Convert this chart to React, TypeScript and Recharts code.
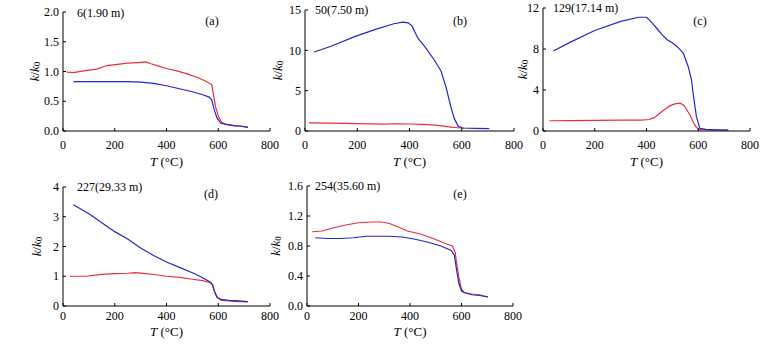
import React from 'react';
import { LineChart, Line, XAxis, YAxis } from 'recharts';

const FONT = '"Liberation Serif", "Times New Roman", serif';
const RED = '#e8303a';
const BLUE = '#2424d4';

const xTicks = [0, 200, 400, 600, 800];

// Panel (a) 6 (1.90 m)
const aRedT = [15, 40, 80, 130, 170, 210, 250, 290, 320, 340, 370, 400, 440, 480, 520, 550, 575, 582, 590, 600, 612, 630, 660, 690, 715];
const aRedK = [0.99, 0.98, 1.01, 1.04, 1.1, 1.12, 1.14, 1.15, 1.16, 1.13, 1.09, 1.05, 1.01, 0.96, 0.9, 0.84, 0.78, 0.6, 0.4, 0.25, 0.15, 0.11, 0.09, 0.08, 0.06];
const aBlueT = [40, 100, 200, 250, 300, 350, 400, 450, 500, 540, 565, 575, 585, 595, 610, 630, 660, 690, 715];
const aBlueK = [0.83, 0.83, 0.83, 0.83, 0.82, 0.8, 0.76, 0.71, 0.66, 0.61, 0.57, 0.52, 0.35, 0.22, 0.13, 0.11, 0.09, 0.08, 0.06];

// Panel (b) 50 (7.50 m)
const bRedT = [15, 100, 200, 300, 350, 400, 450, 500, 530, 560, 585, 610];
const bRedK = [1.0, 0.97, 0.92, 0.85, 0.9, 0.87, 0.82, 0.72, 0.6, 0.47, 0.4, 0.37];
const bBlueT = [35, 100, 190, 270, 340, 375, 395, 410, 432, 460, 495, 521, 540, 559, 572, 587, 603, 650, 705];
const bBlueK = [9.8, 10.5, 11.7, 12.6, 13.3, 13.5, 13.4, 13.0, 11.5, 10.4, 8.8, 7.4, 5.4, 2.9, 1.5, 0.57, 0.37, 0.33, 0.3];

// Panel (c) 129 (17.14 m)
const cRedT = [25, 100, 200, 300, 380, 410, 430, 450, 470, 490, 510, 530, 545, 555, 568, 580, 590, 602, 640, 716];
const cRedK = [1.0, 1.02, 1.04, 1.06, 1.07, 1.12, 1.3, 1.7, 2.1, 2.45, 2.65, 2.72, 2.5, 2.1, 1.56, 0.9, 0.45, 0.15, 0.1, 0.1];
const cBlueT = [40, 100, 200, 300, 370, 400, 420, 440, 460, 480, 500, 520, 542, 561, 574, 580, 593, 606, 630, 670, 716];
const cBlueK = [7.8, 8.6, 9.8, 10.7, 11.1, 11.1, 10.6, 10.0, 9.4, 8.9, 8.6, 8.2, 7.6, 6.3, 5.0, 3.7, 1.4, 0.26, 0.15, 0.12, 0.1];

// Panel (d) 227 (29.33 m)
const dRedT = [25, 90, 150, 200, 250, 280, 320, 360, 400, 450, 500, 540, 570, 578, 585, 595, 610, 640, 680, 714];
const dRedK = [1.0, 1.0, 1.06, 1.09, 1.1, 1.12, 1.09, 1.05, 1.0, 0.96, 0.9, 0.85, 0.78, 0.7, 0.5, 0.3, 0.2, 0.17, 0.15, 0.14];
const dBlueT = [40, 100, 150, 200, 250, 300, 350, 400, 450, 500, 540, 570, 578, 585, 595, 610, 640, 680, 714];
const dBlueK = [3.4, 3.1, 2.8, 2.5, 2.25, 1.95, 1.7, 1.48, 1.3, 1.12, 0.95, 0.8, 0.72, 0.5, 0.3, 0.22, 0.19, 0.17, 0.15];

// Panel (e) 254 (35.60 m)
const eRedT = [20, 60, 100, 150, 200, 250, 290, 320, 350, 390, 440, 490, 540, 565, 575, 582, 590, 600, 610, 640, 670, 703];
const eRedK = [0.99, 1.0, 1.04, 1.08, 1.11, 1.12, 1.12, 1.1, 1.06, 1.0, 0.96, 0.9, 0.83, 0.8, 0.72, 0.55, 0.38, 0.22, 0.18, 0.16, 0.15, 0.12];
const eBlueT = [32, 80, 130, 180, 230, 280, 320, 370, 420, 470, 520, 560, 572, 580, 590, 600, 610, 640, 670, 703];
const eBlueK = [0.91, 0.9, 0.9, 0.91, 0.93, 0.93, 0.93, 0.92, 0.89, 0.85, 0.8, 0.74, 0.68, 0.5, 0.3, 0.2, 0.18, 0.15, 0.14, 0.12];

const aTicks = [0, 0.5, 1.0, 1.5, 2.0];
const bTicks = [0, 5, 10, 15];
const cTicks = [0, 4, 8, 12];
const dTicks = [0, 1, 2, 3, 4];
const eTicks = [0, 0.4, 0.8, 1.2, 1.6];

const zip = (t: number[], k: number[]) => t.map((v, i) => ({ t: v, k: k[i] }));

type PanelCfg = {
  boxLeft: number; boxTop: number; boxW: number; boxH: number;
  plotLeft: number; plotRight: number; plotTop: number; plotBottom: number;
  ticks: number[]; fmt: (v: number) => string;
  red: { t: number; k: number }[]; blue: { t: number; k: number }[];
  title: string; titleX: number; titleY: number;
  tag: string; tagX: number; tagY: number;
  yLabelDist: number; xTickGap: number; xLabelDist: number;
};

const YTick = (props: any) => {
  const { x, y, payload, fmt } = props;
  return (
    <g>
      <line x1={x + 4} x2={x + 7} y1={y} y2={y} stroke="#000" strokeWidth={1} />
      <text x={x} y={y} dy="0.35em" textAnchor="end" fontFamily={FONT} fontSize={12} fill="#000">
        {fmt(payload.value)}
      </text>
    </g>
  );
};

const XTick = (props: any) => {
  const { x, y, payload, gap } = props;
  return (
    <g>
      <line x1={x} x2={x} y1={y - gap} y2={y - gap - 3} stroke="#000" strokeWidth={1} />
      <text x={x} y={y} dy="0.71em" textAnchor="middle" fontFamily={FONT} fontSize={12} fill="#000">
        {payload.value}
      </text>
    </g>
  );
};

function Panel({ c }: { c: PanelCfg }) {
  const yMax = c.ticks[c.ticks.length - 1];
  return (
    <div style={{ position: 'absolute', left: c.boxLeft, top: c.boxTop, width: c.boxW, height: c.boxH }}>
      <LineChart
        width={c.boxW}
        height={c.boxH}
        margin={{ top: c.plotTop - c.boxTop, right: c.boxLeft + c.boxW - c.plotRight, left: 0, bottom: 0 }}
      >
        <XAxis
          dataKey="t"
          type="number"
          domain={[0, 800]}
          ticks={xTicks}
          interval={0}
          allowDuplicatedCategory={false}
          height={c.boxTop + c.boxH - c.plotBottom}
          axisLine={{ stroke: '#000', strokeWidth: 1 }}
          tickLine={false}
          tickSize={0}
          tickMargin={c.xTickGap}
          tick={(p: any) => <XTick {...p} gap={c.xTickGap} />}
          label={(p: any) => {
            const vb = p.viewBox;
            const cx = vb.x + vb.width / 2;
            const cy = vb.y + c.xLabelDist;
            return (
              <text x={cx} y={cy} textAnchor="middle" fontFamily={FONT} fontSize={13} fill="#000">
                <tspan fontStyle="italic">T</tspan> (°C)
              </text>
            );
          }}
        />
        <YAxis
          type="number"
          domain={[0, yMax]}
          ticks={c.ticks}
          interval={0}
          width={c.plotLeft - c.boxLeft}
          axisLine={{ stroke: '#000', strokeWidth: 1 }}
          tickLine={false}
          tickSize={0}
          tickMargin={4}
          tick={(p: any) => <YTick {...p} fmt={c.fmt} />}
          label={(p: any) => {
            const vb = p.viewBox;
            const cx = vb.x + vb.width - c.yLabelDist;
            const cy = vb.y + vb.height / 2;
            return (
              <text
                x={cx}
                y={cy}
                transform={`rotate(-90 ${cx} ${cy})`}
                textAnchor="middle"
                dominantBaseline="central"
                fontFamily={FONT}
                fontSize={13}
                fill="#000"
              >
                <tspan fontStyle="italic">k</tspan>/<tspan fontStyle="italic">k</tspan>
                <tspan fontSize={9} dy={3}>0</tspan>
              </text>
            );
          }}
        />
        <Line data={c.red} dataKey="k" stroke={RED} strokeWidth={1.2} dot={false} isAnimationActive={false} />
        <Line data={c.blue} dataKey="k" stroke={BLUE} strokeWidth={1.2} dot={false} isAnimationActive={false} />
        <text x={c.titleX - c.boxLeft} y={c.titleY - c.boxTop} dominantBaseline="central" fontFamily={FONT} fontSize={12} fill="#000">
          {c.title}
        </text>
        <text x={c.tagX - c.boxLeft} y={c.tagY - c.boxTop} textAnchor="middle" dominantBaseline="central" fontFamily={FONT} fontSize={12} fill="#000">
          {c.tag}
        </text>
      </LineChart>
    </div>
  );
}

const f1 = (v: number) => v.toFixed(1);
const f0 = (v: number) => String(v);

const panels: PanelCfg[] = [
  {
    boxLeft: 0, boxTop: 0, boxW: 285, boxH: 172,
    plotLeft: 63, plotRight: 270, plotTop: 12, plotBottom: 131,
    ticks: aTicks, fmt: f1, red: zip(aRedT, aRedK), blue: zip(aBlueT, aBlueK),
    title: '6(1.90 m)', titleX: 77, titleY: 13, tag: '(a)', tagX: 212, tagY: 21,
    yLabelDist: 29, xTickGap: 9, xLabelDist: 35,
  },
  {
    boxLeft: 245, boxTop: 0, boxW: 285, boxH: 172,
    plotLeft: 305, plotRight: 514, plotTop: 10, plotBottom: 131,
    ticks: bTicks, fmt: f0, red: zip(bRedT, bRedK), blue: zip(bBlueT, bBlueK),
    title: '50(7.50 m)', titleX: 315, titleY: 10, tag: '(b)', tagX: 460, tagY: 21,
    yLabelDist: 28, xTickGap: 9, xLabelDist: 35,
  },
  {
    boxLeft: 490, boxTop: 0, boxW: 290, boxH: 172,
    plotLeft: 543, plotRight: 750, plotTop: 8, plotBottom: 131,
    ticks: cTicks, fmt: f0, red: zip(cRedT, cRedK), blue: zip(cBlueT, cBlueK),
    title: '129(17.14 m)', titleX: 553, titleY: 8, tag: '(c)', tagX: 700, tagY: 21,
    yLabelDist: 21, xTickGap: 9, xLabelDist: 35,
  },
  {
    boxLeft: 0, boxTop: 172, boxW: 285, boxH: 173,
    plotLeft: 63, plotRight: 270, plotTop: 187, plotBottom: 306,
    ticks: dTicks, fmt: f0, red: zip(dRedT, dRedK), blue: zip(dBlueT, dBlueK),
    title: '227(29.33 m)', titleX: 77, titleY: 187, tag: '(d)', tagX: 211, tagY: 194,
    yLabelDist: 27, xTickGap: 5, xLabelDist: 30,
  },
  {
    boxLeft: 245, boxTop: 172, boxW: 285, boxH: 173,
    plotLeft: 307, plotRight: 513, plotTop: 186, plotBottom: 306,
    ticks: eTicks, fmt: f1, red: zip(eRedT, eRedK), blue: zip(eBlueT, eBlueK),
    title: '254(35.60 m)', titleX: 315, titleY: 186, tag: '(e)', tagX: 460, tagY: 194,
    yLabelDist: 32, xTickGap: 5, xLabelDist: 30,
  },
];

export default function App() {
  return (
    <div style={{ position: 'absolute', left: 0, top: 0, width: 780, height: 345, background: '#fff' }}>
      {panels.map((c, i) => (
        <Panel key={i} c={c} />
      ))}
    </div>
  );
}
